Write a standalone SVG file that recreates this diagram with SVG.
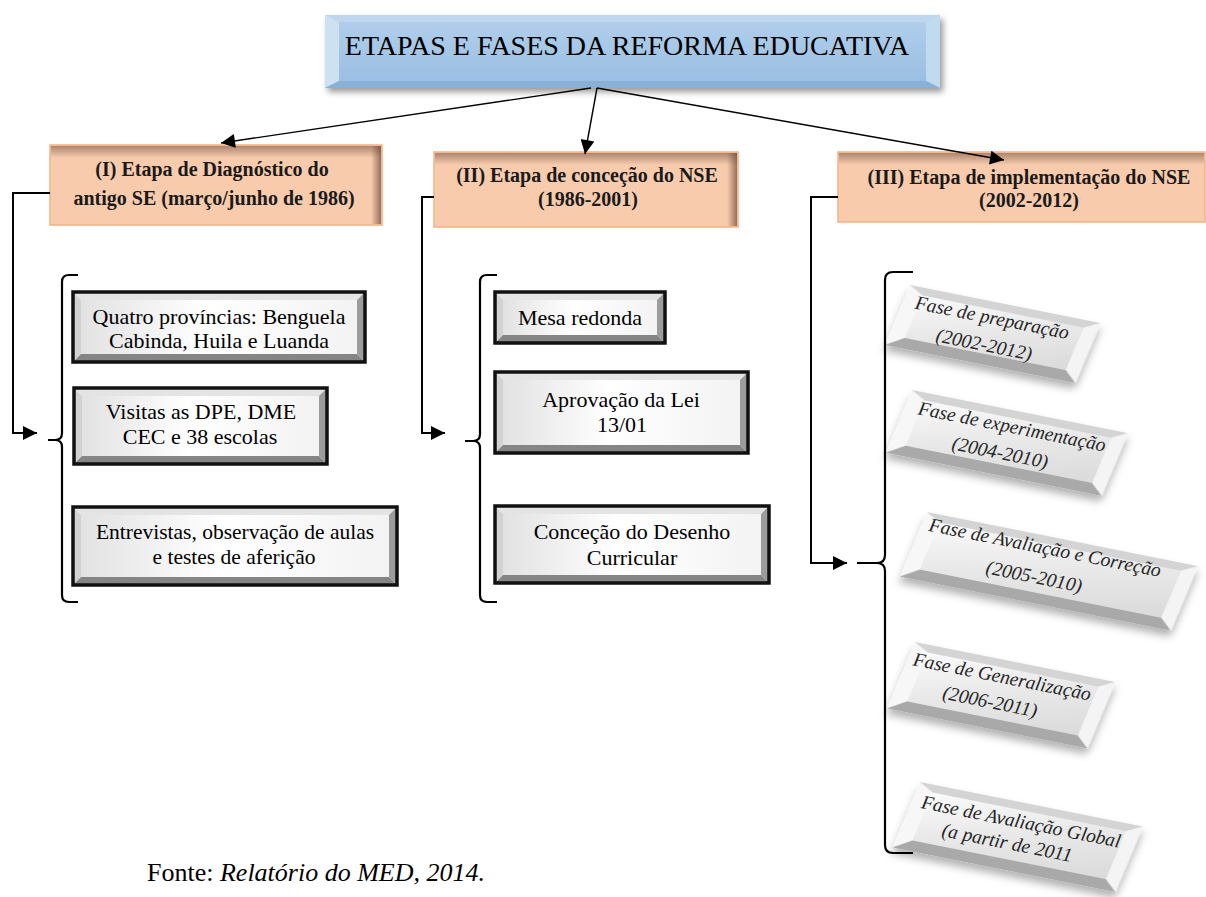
<svg xmlns="http://www.w3.org/2000/svg" width="1206" height="897" viewBox="0 0 1206 897">
<style>
.tt{font-family:"Liberation Serif","Times New Roman",serif;font-size:28px;fill:#000;text-anchor:middle}
.hb{font-family:"Liberation Serif","Times New Roman",serif;font-size:20px;font-weight:bold;fill:#1a1a1a;text-anchor:middle}
.bt{font-family:"Liberation Serif","Times New Roman",serif;font-size:22px;fill:#000;text-anchor:middle}
.ft{font-family:"Liberation Serif","Times New Roman",serif;font-size:19.5px;font-style:italic;fill:#262626;text-anchor:middle}
.fo{font-family:"Liberation Serif","Times New Roman",serif;font-size:26px;fill:#000}
.peach{fill:#f8cbad;stroke:#f4b183;stroke-width:1.5}
.bd{fill:none;stroke:#111;stroke-width:3.5}
.bvT{fill:#e4e4e4}.bvL{fill:#d2d2d2}.bvR{fill:#9c9c9c}.bvB{fill:#858585}
.fT{fill:#d4d4d4}.fL{fill:#f7f7f7}.fR{fill:#f4f4f4}.fB{fill:#a9a9a9}
.ln{fill:none;stroke:#000;stroke-width:1.4}
.el{fill:none;stroke:#000;stroke-width:2}
.br{fill:none;stroke:#000;stroke-width:2.2}
</style>
<defs>
<marker id="ah" viewBox="0 0 10 10" refX="10" refY="5" markerUnits="userSpaceOnUse" markerWidth="18" markerHeight="14" orient="auto"><path d="M0,0 L10,5 L0,10 z" fill="#000"/></marker>
<linearGradient id="blue" x1="0" y1="0" x2="0" y2="1"><stop offset="0" stop-color="#b3d0ec"/><stop offset="1" stop-color="#98bde1"/></linearGradient>
<linearGradient id="face" x1="0" y1="0" x2="1" y2="0"><stop offset="0" stop-color="#e2e2e2"/><stop offset="0.45" stop-color="#ffffff"/><stop offset="1" stop-color="#f3f3f3"/></linearGradient>
<linearGradient id="fface" x1="0" y1="0" x2="1" y2="1"><stop offset="0" stop-color="#fafafa"/><stop offset="0.5" stop-color="#e8e8e8"/><stop offset="1" stop-color="#dadada"/></linearGradient>
<linearGradient id="inT" x1="0" y1="0" x2="0" y2="1"><stop offset="0" stop-color="#7a5a48" stop-opacity="0.6"/><stop offset="1" stop-color="#7a5a48" stop-opacity="0"/></linearGradient>
<linearGradient id="inR" x1="1" y1="0" x2="0" y2="0"><stop offset="0" stop-color="#6a4a38" stop-opacity="0.7"/><stop offset="1" stop-color="#6a4a38" stop-opacity="0"/></linearGradient>
<filter id="sh" x="-10%" y="-20%" width="125%" height="150%"><feDropShadow dx="3" dy="4" stdDeviation="3" flood-color="#000" flood-opacity="0.4"/></filter>
<filter id="fsh" x="-15%" y="-30%" width="135%" height="170%"><feDropShadow dx="2" dy="6" stdDeviation="4" flood-color="#000" flood-opacity="0.3"/></filter>
</defs>
<rect width="1206" height="897" fill="#fff"/>

<g id="title">
<rect x="325" y="15" width="615" height="73" fill="url(#blue)" filter="url(#sh)"/>
<polygon points="325,15 940,15 926,22 339,22" fill="#bed7ef"/>
<polygon points="325,15 339,22 339,81 325,88" fill="#cde1f3"/>
<polygon points="940,15 940,88 926,81 926,22" fill="#c2daf0"/>
<polygon points="325,88 339,81 926,81 940,88" fill="#89b0d6"/>
<text class="tt" x="627" y="55">ETAPAS E FASES DA REFORMA EDUCATIVA</text>
</g>

<g id="etapa1">
<rect class="peach" x="50" y="145" width="332" height="80"/>
<rect x="51" y="146" width="330" height="12" fill="url(#inT)"/>
<rect x="371" y="146" width="10" height="78" fill="url(#inR)"/>
<text class="hb" x="212" y="176">(I) Etapa de Diagnóstico do</text>
<text class="hb" x="214" y="205">antigo SE (março/junho de 1986)</text>
</g>
<g id="etapa2">
<rect class="peach" x="434" y="152" width="304" height="75"/>
<rect x="435" y="153" width="302" height="12" fill="url(#inT)"/>
<rect x="727" y="153" width="10" height="73" fill="url(#inR)"/>
<text class="hb" x="587" y="182">(II) Etapa de conceção do NSE</text>
<text class="hb" x="588" y="206">(1986-2001)</text>
</g>
<g id="etapa3">
<rect class="peach" x="838" y="152" width="367" height="70"/>
<rect x="839" y="153" width="365" height="12" fill="url(#inT)"/>
<text class="hb" x="1029" y="184">(III) Etapa de implementação do NSE</text>
<text class="hb" x="1029" y="207">(2002-2012)</text>
</g>

<g id="b1">
<polygon class="bvT" points="73,292 365,292 357,300 81,300"/>
<polygon class="bvL" points="73,292 81,300 81,354 73,362"/>
<polygon class="bvR" points="365,292 365,362 357,354 357,300"/>
<polygon class="bvB" points="73,362 81,354 357,354 365,362"/>
<rect x="81" y="300" width="276" height="54" fill="url(#face)"/>
<rect class="bd" x="73" y="292" width="292" height="70"/>
<text class="bt" x="219" y="324">Quatro províncias: Benguela</text>
<text class="bt" x="219" y="348">Cabinda, Huila e Luanda</text>
</g>
<g id="b2">
<polygon class="bvT" points="74,388 327,388 319,396 82,396"/>
<polygon class="bvL" points="74,388 82,396 82,456 74,464"/>
<polygon class="bvR" points="327,388 327,464 319,456 319,396"/>
<polygon class="bvB" points="74,464 82,456 319,456 327,464"/>
<rect x="82" y="396" width="237" height="60" fill="url(#face)"/>
<rect class="bd" x="74" y="388" width="253" height="76"/>
<text class="bt" x="201" y="419">Visitas as DPE, DME</text>
<text class="bt" x="200" y="444">CEC e 38 escolas</text>
</g>
<g id="b3">
<polygon class="bvT" points="73,507 397,507 389,515 81,515"/>
<polygon class="bvL" points="73,507 81,515 81,577 73,585"/>
<polygon class="bvR" points="397,507 397,585 389,577 389,515"/>
<polygon class="bvB" points="73,585 81,577 389,577 397,585"/>
<rect x="81" y="515" width="308" height="62" fill="url(#face)"/>
<rect class="bd" x="73" y="507" width="324" height="78"/>
<text class="bt" x="235" y="539" style="font-size:21.5px">Entrevistas, observação de aulas</text>
<text class="bt" x="234" y="564" style="font-size:21.5px">e testes de aferição</text>
</g>

<g id="m1">
<polygon class="bvT" points="495,292 665,292 657,300 503,300"/>
<polygon class="bvL" points="495,292 503,300 503,335 495,343"/>
<polygon class="bvR" points="665,292 665,343 657,335 657,300"/>
<polygon class="bvB" points="495,343 503,335 657,335 665,343"/>
<rect x="503" y="300" width="154" height="35" fill="url(#face)"/>
<rect class="bd" x="495" y="292" width="170" height="51"/>
<text class="bt" x="580" y="325">Mesa redonda</text>
</g>
<g id="m2">
<polygon class="bvT" points="495,372 748,372 740,380 503,380"/>
<polygon class="bvL" points="495,372 503,380 503,445 495,453"/>
<polygon class="bvR" points="748,372 748,453 740,445 740,380"/>
<polygon class="bvB" points="495,453 503,445 740,445 748,453"/>
<rect x="503" y="380" width="237" height="65" fill="url(#face)"/>
<rect class="bd" x="495" y="372" width="253" height="81"/>
<text class="bt" x="621" y="407">Aprovação da Lei</text>
<text class="bt" x="622" y="432">13/01</text>
</g>
<g id="m3">
<polygon class="bvT" points="495,506 769,506 761,514 503,514"/>
<polygon class="bvL" points="495,506 503,514 503,575 495,583"/>
<polygon class="bvR" points="769,506 769,583 761,575 761,514"/>
<polygon class="bvB" points="495,583 503,575 761,575 769,583"/>
<rect x="503" y="514" width="258" height="61" fill="url(#face)"/>
<rect class="bd" x="495" y="506" width="274" height="77"/>
<text class="bt" x="632" y="539">Conceção do Desenho</text>
<text class="bt" x="632" y="565">Curricular</text>
</g>

<g id="f1">
<g transform="matrix(0.981 0.196 -0.387 0.922 910 285)" filter="url(#fsh)">
<rect x="0" y="0" width="194" height="65" fill="#d8d8d8"/>
<polygon class="fT" points="0,0 194,0 180,8 16,8"/>
<polygon class="fL" points="0,0 16,8 16,54 0,65"/>
<polygon class="fR" points="194,0 194,65 180,54 180,8"/>
<polygon class="fB" points="0,65 16,54 180,54 194,65"/>
<rect x="16" y="8" width="164" height="46" fill="url(#fface)"/>
</g>
<text class="ft" transform="rotate(11.3 992 318)" x="992" y="324">Fase de preparação</text>
<text class="ft" transform="rotate(11.3 984 345)" x="984" y="351">(2002-2012)</text>
</g>
<g id="f2">
<g transform="matrix(0.981 0.196 -0.387 0.922 912 390)" filter="url(#fsh)">
<rect x="0" y="0" width="220" height="68" fill="#d8d8d8"/>
<polygon class="fT" points="0,0 220,0 206,8 16,8"/>
<polygon class="fL" points="0,0 16,8 16,57 0,68"/>
<polygon class="fR" points="220,0 220,68 206,57 206,8"/>
<polygon class="fB" points="0,68 16,57 206,57 220,68"/>
<rect x="16" y="8" width="190" height="49" fill="url(#fface)"/>
</g>
<text class="ft" transform="rotate(11.3 1012 427)" x="1012" y="433">Fase de experimentação</text>
<text class="ft" transform="rotate(11.3 1000 453)" x="1000" y="459">(2004-2010)</text>
</g>
<g id="f3">
<g transform="matrix(0.981 0.196 -0.387 0.922 927 512)" filter="url(#fsh)">
<rect x="0" y="0" width="276" height="70" fill="#d8d8d8"/>
<polygon class="fT" points="0,0 276,0 262,8 16,8"/>
<polygon class="fL" points="0,0 16,8 16,59 0,70"/>
<polygon class="fR" points="276,0 276,70 262,59 262,8"/>
<polygon class="fB" points="0,70 16,59 262,59 276,70"/>
<rect x="16" y="8" width="246" height="51" fill="url(#fface)"/>
</g>
<text class="ft" transform="rotate(11.3 1045 548)" x="1045" y="554">Fase de Avaliação e Correção</text>
<text class="ft" transform="rotate(11.3 1034 577)" x="1034" y="583">(2005-2010)</text>
</g>
<g id="f4">
<g transform="matrix(0.981 0.196 -0.387 0.922 915 642)" filter="url(#fsh)">
<rect x="0" y="0" width="204" height="72" fill="#d8d8d8"/>
<polygon class="fT" points="0,0 204,0 190,8 16,8"/>
<polygon class="fL" points="0,0 16,8 16,61 0,72"/>
<polygon class="fR" points="204,0 204,72 190,61 190,8"/>
<polygon class="fB" points="0,72 16,61 190,61 204,72"/>
<rect x="16" y="8" width="174" height="53" fill="url(#fface)"/>
</g>
<text class="ft" transform="rotate(11.3 1002 677)" x="1002" y="683">Fase de Generalização</text>
<text class="ft" transform="rotate(11.3 990 702)" x="990" y="708">(2006-2011)</text>
</g>
<g id="f5">
<g transform="matrix(0.981 0.196 -0.387 0.922 920 782)" filter="url(#fsh)">
<rect x="0" y="0" width="227" height="71" fill="#d8d8d8"/>
<polygon class="fT" points="0,0 227,0 213,8 16,8"/>
<polygon class="fL" points="0,0 16,8 16,60 0,71"/>
<polygon class="fR" points="227,0 227,71 213,60 213,8"/>
<polygon class="fB" points="0,71 16,60 213,60 227,71"/>
<rect x="16" y="8" width="197" height="52" fill="url(#fface)"/>
</g>
<text class="ft" transform="rotate(11.3 1021 822)" x="1021" y="828">Fase de Avaliação Global</text>
<text class="ft" transform="rotate(11.3 1007 843)" x="1007" y="849">(a partir de 2011</text>
</g>

<g id="connectors">
<line class="ln" x1="591" y1="88" x2="221" y2="143" marker-end="url(#ah)"/>
<line class="ln" x1="597" y1="88" x2="585" y2="154" marker-end="url(#ah)"/>
<line class="ln" x1="597" y1="88" x2="1004" y2="160" marker-end="url(#ah)"/>
<path class="el" d="M50,193 H13 V433 H37" marker-end="url(#ah)"/>
<path class="el" d="M434,197 H422 V433 H445" marker-end="url(#ah)"/>
<path class="el" d="M838,197 H811 V563 H847" marker-end="url(#ah)"/>
<path class="br" d="M78,275 H69 Q62,275 62,282 V433 Q62,440 55,440 H48 M55,440 Q62,440 62,447 V595 Q62,602 69,602 H78"/>
<path class="br" d="M497,275 H487 Q480,275 480,282 V434 Q480,441 473,441 H465 M473,441 Q480,441 480,448 V595 Q480,602 487,602 H497"/>
<path class="br" d="M913,272 H893 Q885,272 885,280 V555 Q885,563 877,563 H857 M877,563 Q885,563 885,571 V845 Q885,853 893,853 H913"/>
</g>

<text class="fo" x="147" y="881">Fonte: <tspan font-style="italic">Relatório do MED, 2014.</tspan></text>
</svg>
